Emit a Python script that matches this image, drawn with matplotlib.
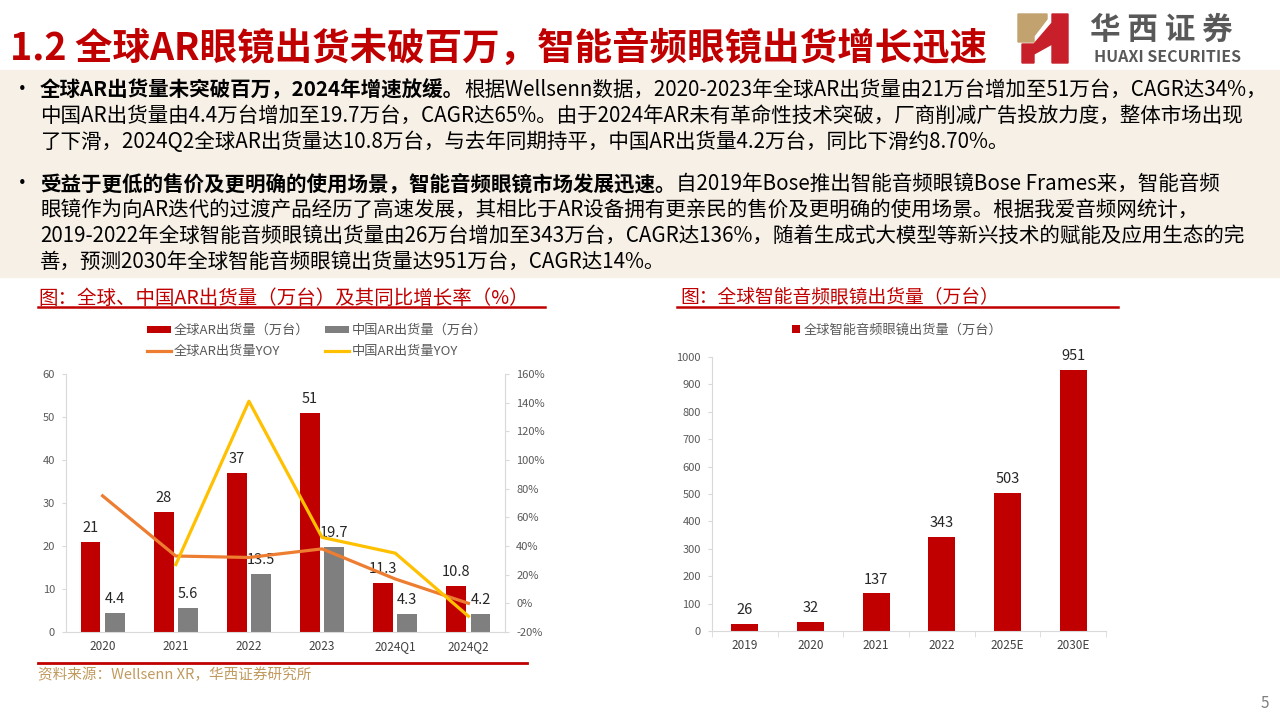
import matplotlib
matplotlib.use("Agg")
import matplotlib.pyplot as plt
import numpy as np
from matplotlib.patches import Rectangle, Polygon
from matplotlib.ticker import FuncFormatter

plt.rcParams['font.family'] = ['Noto Sans CJK SC', 'DejaVu Sans']

# ---------- data ----------
ar_years = ["2020", "2021", "2022", "2023", "2024Q1", "2024Q2"]
ar_global = [21, 28, 37, 51, 11.3, 10.8]
ar_china = [4.4, 5.6, 13.5, 19.7, 4.3, 4.2]
ar_global_yoy = [75, 33, 32, 38, 17, 0]            # %
ar_china_yoy = [np.nan, 27, 141, 46, 35, -9]       # %

audio_years = ["2019", "2020", "2021", "2022", "2025E", "2030E"]
audio_ship = [26, 32, 137, 343, 503, 951]

# ---------- colors ----------
RED = "#C00000"
GRAY = "#7F7F7F"
ORANGE = "#ED7D31"
YELLOW = "#FFC000"
TXT = "#595959"
SPINE = "#D9D9D9"

fig = plt.figure(figsize=(12.8, 7.2), dpi=100)

# page overlay in pixel coords
bg = fig.add_axes([0, 0, 1, 1])
bg.set_xlim(0, 1280)
bg.set_ylim(720, 0)
bg.axis("off")

# beige text band
bg.add_patch(Rectangle((0, 70), 1280, 207, color="#F7F0E7", zorder=0))

# title
bg.text(10, 48, "1.2 全球AR眼镜出货未破百万，智能音频眼镜出货增长迅速",
        fontsize=27, fontweight="bold", color=RED, va="center")

# logo
bg.add_patch(Polygon([(1018, 14), (1047, 14), (1047, 19), (1034, 36), (1034, 42), (1018, 42)],
                     closed=True, color="#C2A26E"))
bg.add_patch(Polygon([(1022, 63), (1022, 44), (1034, 44), (1052, 23), (1052, 14), (1068, 14),
                      (1068, 63), (1052, 63), (1052, 44), (1034, 54), (1034, 63)],
                     closed=True, color="#C8202A"))
bg.text(1090, 30, "华 西 证 券", fontsize=22, fontweight="bold", color=TXT, va="center")
bg.text(1094, 57, "HUAXI SECURITIES", fontsize=11.5, fontweight="bold", color=TXT, va="center")

# ---------- bullet text ----------
FS = 14.8
def mixed_line(y, bold, normal):
    t = bg.text(40, y, bold, fontsize=FS, fontweight="bold", color="black", va="center")
    bg.annotate(normal, xy=(1, 0), xycoords=t, fontsize=FS, color="black", va="bottom", ha="left")

bg.text(12, 90, "•", fontsize=FS, va="center")
mixed_line(90, "全球AR出货量未突破百万，2024年增速放缓。",
           "根据Wellsenn数据，2020-2023年全球AR出货量由21万台增加至51万台，CAGR达34%，")
bg.text(40, 116, "中国AR出货量由4.4万台增加至19.7万台，CAGR达65%。由于2024年AR未有革命性技术突破，厂商削减广告投放力度，整体市场出现",
        fontsize=FS, va="center")
bg.text(40, 142, "了下滑，2024Q2全球AR出货量达10.8万台，与去年同期持平，中国AR出货量4.2万台，同比下滑约8.70%。",
        fontsize=FS, va="center")

bg.text(12, 184, "•", fontsize=FS, va="center")
mixed_line(184, "受益于更低的售价及更明确的使用场景，智能音频眼镜市场发展迅速。",
           "自2019年Bose推出智能音频眼镜Bose Frames来，智能音频")
bg.text(40, 210, "眼镜作为向AR迭代的过渡产品经历了高速发展，其相比于AR设备拥有更亲民的售价及更明确的使用场景。根据我爱音频网统计，",
        fontsize=FS, va="center")
bg.text(40, 236, "2019-2022年全球智能音频眼镜出货量由26万台增加至343万台，CAGR达136%，随着生成式大模型等新兴技术的赋能及应用生态的完",
        fontsize=FS, va="center")
bg.text(40, 262, "善，预测2030年全球智能音频眼镜出货量达951万台，CAGR达14%。",
        fontsize=FS, va="center")

# chart titles
bg.text(38, 298, "图：全球、中国AR出货量（万台）及其同比增长率（%）", color=RED, fontsize=14, va="center")
bg.plot([38, 545], [307, 307], color=RED, lw=1.8)
bg.text(680, 297, "图：全球智能音频眼镜出货量（万台）", color=RED, fontsize=13.5, va="center")
bg.plot([677, 1118], [307, 307], color=RED, lw=1.8)

# source + page
bg.plot([38, 527], [662.5, 662.5], color=RED, lw=2)
bg.text(38, 675, "资料来源：Wellsenn XR，华西证券研究所", color="#C09A5E", fontsize=10.5, va="center")
bg.text(1265, 704, "5", color=GRAY, fontsize=11, ha="center", va="center")

# ---------- left chart ----------
x = np.arange(len(ar_years))
axL = fig.add_axes([66 / 1280, 88 / 720, 439 / 1280, 258 / 720])
axL.set_facecolor("none")
w, off = 0.27, 0.165
b1 = axL.bar(x - off, ar_global, w, color=RED)
b2 = axL.bar(x + off, ar_china, w, color=GRAY)
for bars, vals in [(b1, ar_global), (b2, ar_china)]:
    for b, v in zip(bars, vals):
        axL.annotate(f"{v:g}", (b.get_x() + b.get_width() / 2, v), xytext=(0, 5),
                     textcoords="offset points", ha="center", va="bottom",
                     fontsize=10.5, color="#262626")
axL.set_xlim(-0.5, 5.5)
axL.set_ylim(0, 60)
axL.set_yticks(range(0, 61, 10))
axL.set_xticks(x, ar_years)
axL.tick_params(axis="y", length=3, color=SPINE, labelsize=8, labelcolor=TXT, pad=5)
axL.tick_params(axis="x", length=0, labelsize=8.5, labelcolor="#404040", pad=6)
for s in ["top", "right"]:
    axL.spines[s].set_visible(False)
for s in ["left", "bottom"]:
    axL.spines[s].set_color(SPINE)

axR = axL.twinx()
l1, = axR.plot(x, ar_global_yoy, color=ORANGE, lw=2.3)
l2, = axR.plot(x, ar_china_yoy, color=YELLOW, lw=2.3)
axR.set_ylim(-20, 160)
axR.set_yticks(range(-20, 161, 20))
axR.yaxis.set_major_formatter(FuncFormatter(lambda v, p: f"{v:.0f}%"))
axR.tick_params(axis="y", length=3, color=SPINE, labelsize=8, labelcolor=TXT, pad=5)
for s in ["top", "left", "bottom"]:
    axR.spines[s].set_visible(False)
axR.spines["right"].set_color(SPINE)

axR.legend([b1, l1, b2, l2],
           ["全球AR出货量（万台）", "全球AR出货量YOY", "中国AR出货量（万台）", "中国AR出货量YOY"],
           ncol=2, loc="lower left", bbox_to_anchor=(0.17, 1.036), frameon=False,
           fontsize=9.5, labelcolor=TXT, handlelength=1.8, handleheight=0.5,
           columnspacing=1.2, handletextpad=0.2, labelspacing=0.6, borderpad=0)

# ---------- right chart ----------
xa = np.arange(len(audio_years))
axA = fig.add_axes([712 / 1280, 89 / 720, 394 / 1280, 274 / 720])
axA.set_facecolor("none")
ba = axA.bar(xa, audio_ship, 0.41, color=RED, label="全球智能音频眼镜出货量（万台）")
for b, v in zip(ba, audio_ship):
    axA.annotate(f"{v}", (b.get_x() + b.get_width() / 2, v), xytext=(0, 5),
                 textcoords="offset points", ha="center", va="bottom",
                 fontsize=10.5, color="#262626")
axA.set_xlim(-0.5, 5.5)
axA.set_ylim(0, 1000)
axA.set_yticks(range(0, 1001, 100))
axA.set_xticks(xa, audio_years)
axA.set_xticks(np.arange(-0.5, 6, 1), minor=True)
axA.tick_params(axis="x", which="major", length=0, labelsize=8.5, labelcolor="#404040", pad=6)
axA.tick_params(axis="x", which="minor", length=4, color=SPINE)
axA.tick_params(axis="y", length=3, color=SPINE, labelsize=8, labelcolor=TXT, pad=5)
for s in ["top", "right"]:
    axA.spines[s].set_visible(False)
for s in ["left", "bottom"]:
    axA.spines[s].set_color(SPINE)
axA.legend(loc="lower center", bbox_to_anchor=(0.47, 1.05), frameon=False, fontsize=9.5,
           labelcolor=TXT, handlelength=0.6, handleheight=0.6, handletextpad=0.3, borderpad=0)

fig.savefig("out.png", dpi=100)
plt.close(fig)
